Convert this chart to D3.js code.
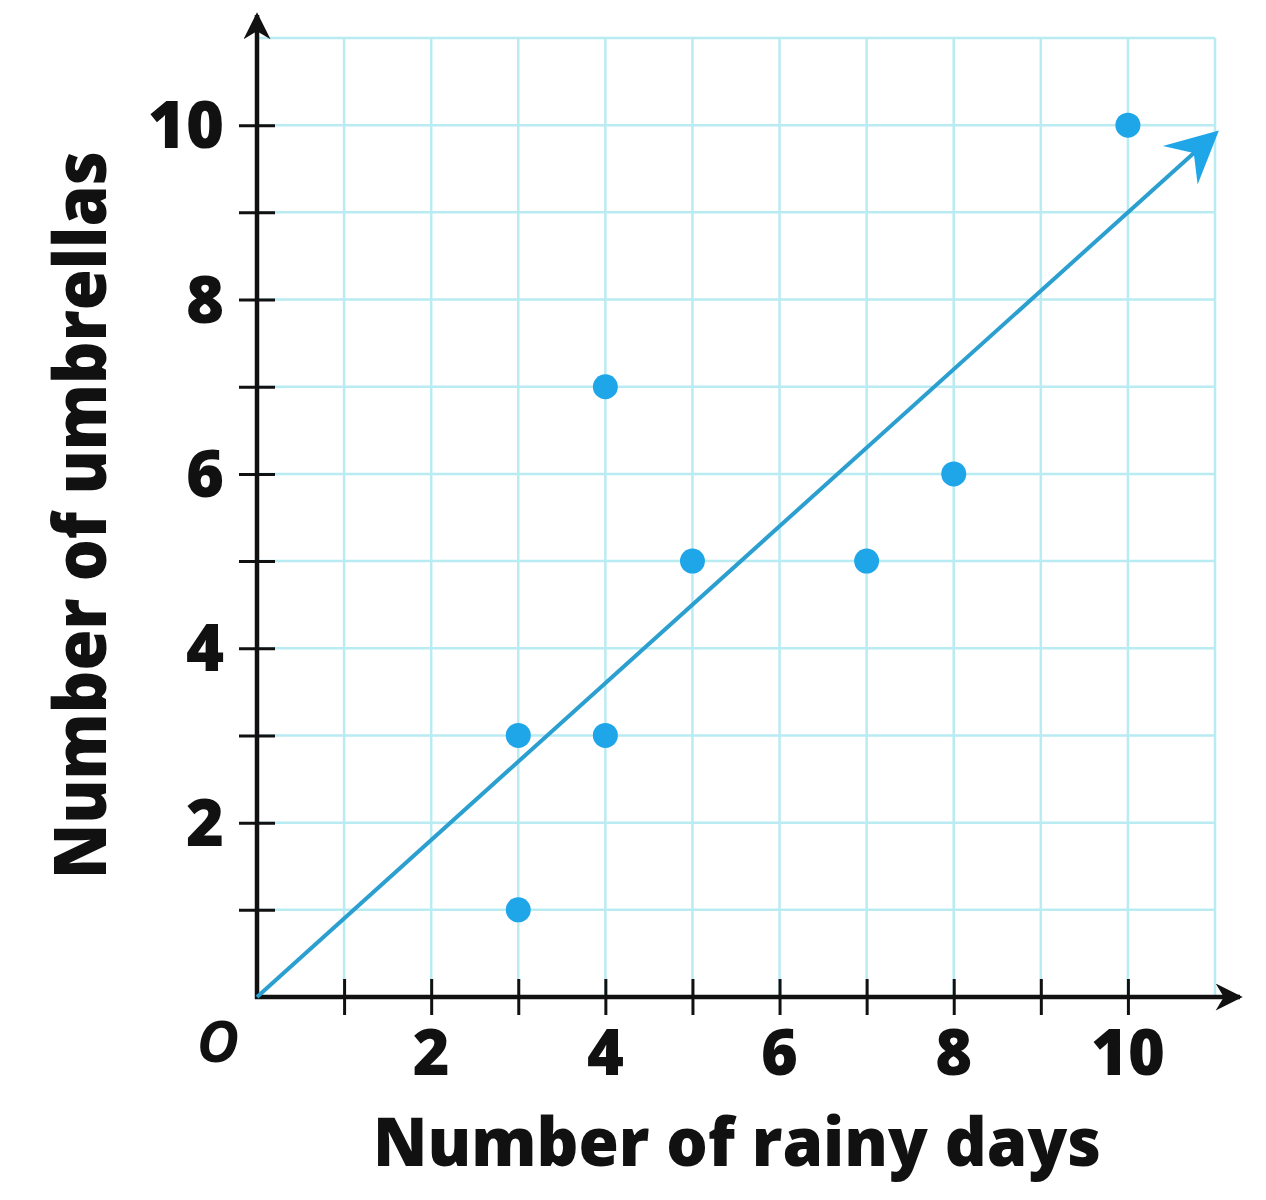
<!DOCTYPE html>
<html>
<head>
<meta charset="utf-8">
<script src="https://cdn.jsdelivr.net/npm/d3@7"></script>
<style>
  body { margin: 0; background: #fff; }
  text { font-family: "Open Sans", "Noto Sans", sans-serif; font-weight: 800; fill: #111; }
</style>
</head>
<body>
<svg id="chart"></svg>
<script>
// data
const rainyDays = [3, 3, 4, 4, 5, 7, 8, 10]
const umbrellas = [3, 1, 7, 3, 5, 5, 6, 10]
const trendX = [0, 11]
const trendY = [0, 9.9]
const xTicks = [1, 2, 3, 4, 5, 6, 7, 8, 9, 10]
const yTicks = [1, 2, 3, 4, 5, 6, 7, 8, 9, 10]
const xLabels = [2, 4, 6, 8, 10]
const yLabels = [2, 4, 6, 8, 10]
const gridVals = [1, 2, 3, 4, 5, 6, 7, 8, 9, 10, 11]

const width = 1266, height = 1200
const svg = d3.select("#chart").attr("width", width).attr("height", height)

const x = d3.scaleLinear().domain([0, 11]).range([257, 1215])
const y = d3.scaleLinear().domain([0, 11]).range([997, 38])

const gridColor = "#b9ebf2"
const blue = "#1ea6e8"

// grid
svg.append("g").selectAll("line.v")
  .data(gridVals).join("line")
  .attr("x1", d => x(d)).attr("x2", d => x(d))
  .attr("y1", y(0)).attr("y2", y(11))
  .attr("stroke", gridColor).attr("stroke-width", 2.5)

svg.append("g").selectAll("line.h")
  .data(gridVals).join("line")
  .attr("x1", x(0)).attr("x2", x(11))
  .attr("y1", d => y(d)).attr("y2", d => y(d))
  .attr("stroke", gridColor).attr("stroke-width", 2.5)

// arrow markers
const defs = svg.append("defs")
defs.append("marker").attr("id", "blackArrow")
  .attr("viewBox", "0 0 10 10").attr("refX", 9).attr("refY", 5)
  .attr("markerWidth", 7).attr("markerHeight", 6).attr("markerUnits", "strokeWidth")
  .attr("orient", "auto")
  .append("path").attr("d", "M0,0 L10,5 L0,10 L3,5 Z").attr("fill", "#111")

defs.append("marker").attr("id", "blueArrow")
  .attr("viewBox", "0 0 10 10").attr("refX", 9).attr("refY", 5)
  .attr("markerWidth", 15).attr("markerHeight", 13).attr("markerUnits", "strokeWidth")
  .attr("orient", "auto")
  .append("path").attr("d", "M0,0 L10,5 L0,10 L3.5,5 Z").attr("fill", blue)

// axes
const xAxis = d3.axisBottom(x).tickValues(xTicks).tickSize(18).tickFormat("")
const yAxis = d3.axisLeft(y).tickValues(yTicks).tickSize(18).tickFormat("")

const gx = svg.append("g").attr("transform", `translate(0,${y(0)})`).call(xAxis)
gx.select(".domain").remove()
gx.selectAll(".tick line").attr("y1", -18).attr("stroke", "#111").attr("stroke-width", 3)

const gy = svg.append("g").attr("transform", `translate(${x(0)},0)`).call(yAxis)
gy.select(".domain").remove()
gy.selectAll(".tick line").attr("x1", 18).attr("stroke", "#111").attr("stroke-width", 3)

svg.append("line")
  .attr("x1", x(0) - 2).attr("x2", 1240).attr("y1", y(0)).attr("y2", y(0))
  .attr("stroke", "#111").attr("stroke-width", 4.5).attr("marker-end", "url(#blackArrow)")
svg.append("line")
  .attr("x1", x(0)).attr("x2", x(0)).attr("y1", y(0) + 2).attr("y2", 15)
  .attr("stroke", "#111").attr("stroke-width", 4.5).attr("marker-end", "url(#blackArrow)")

// tick labels
svg.append("g").selectAll("text")
  .data(xLabels).join("text")
  .attr("x", d => x(d)).attr("y", 1075)
  .attr("text-anchor", "middle").attr("font-size", 63)
  .text(d => d)

svg.append("g").selectAll("text")
  .data(yLabels).join("text")
  .attr("x", 224).attr("y", d => y(d) + 23)
  .attr("text-anchor", "end").attr("font-size", 65)
  .text(d => d)

svg.append("text")
  .attr("x", 218).attr("y", 1062)
  .attr("text-anchor", "middle").attr("font-size", 58)
  .attr("font-style", "italic").style("font-weight", 700)
  .text("O")

// titles
svg.append("text")
  .attr("x", 737).attr("y", 1166)
  .attr("text-anchor", "middle").attr("font-size", 68)
  .attr("textLength", 728).attr("lengthAdjust", "spacingAndGlyphs")
  .text("Number of rainy days")

svg.append("text")
  .attr("transform", "translate(106,515) rotate(-90)")
  .attr("text-anchor", "middle").attr("font-size", 72)
  .attr("textLength", 728).attr("lengthAdjust", "spacingAndGlyphs")
  .text("Number of umbrellas")

// trend line
const trend = trendX.map((d, i) => [d, trendY[i]])
svg.append("path")
  .datum(trend)
  .attr("d", d3.line().x(d => x(d[0])).y(d => y(d[1])))
  .attr("fill", "none").attr("stroke", "#2a9fd0").attr("stroke-width", 4)
  .attr("marker-end", "url(#blueArrow)")

// points
svg.append("g").selectAll("circle")
  .data(rainyDays.map((d, i) => [d, umbrellas[i]]))
  .join("circle")
  .attr("cx", d => x(d[0])).attr("cy", d => y(d[1]))
  .attr("r", 12.5).attr("fill", blue)
</script>
</body>
</html>
